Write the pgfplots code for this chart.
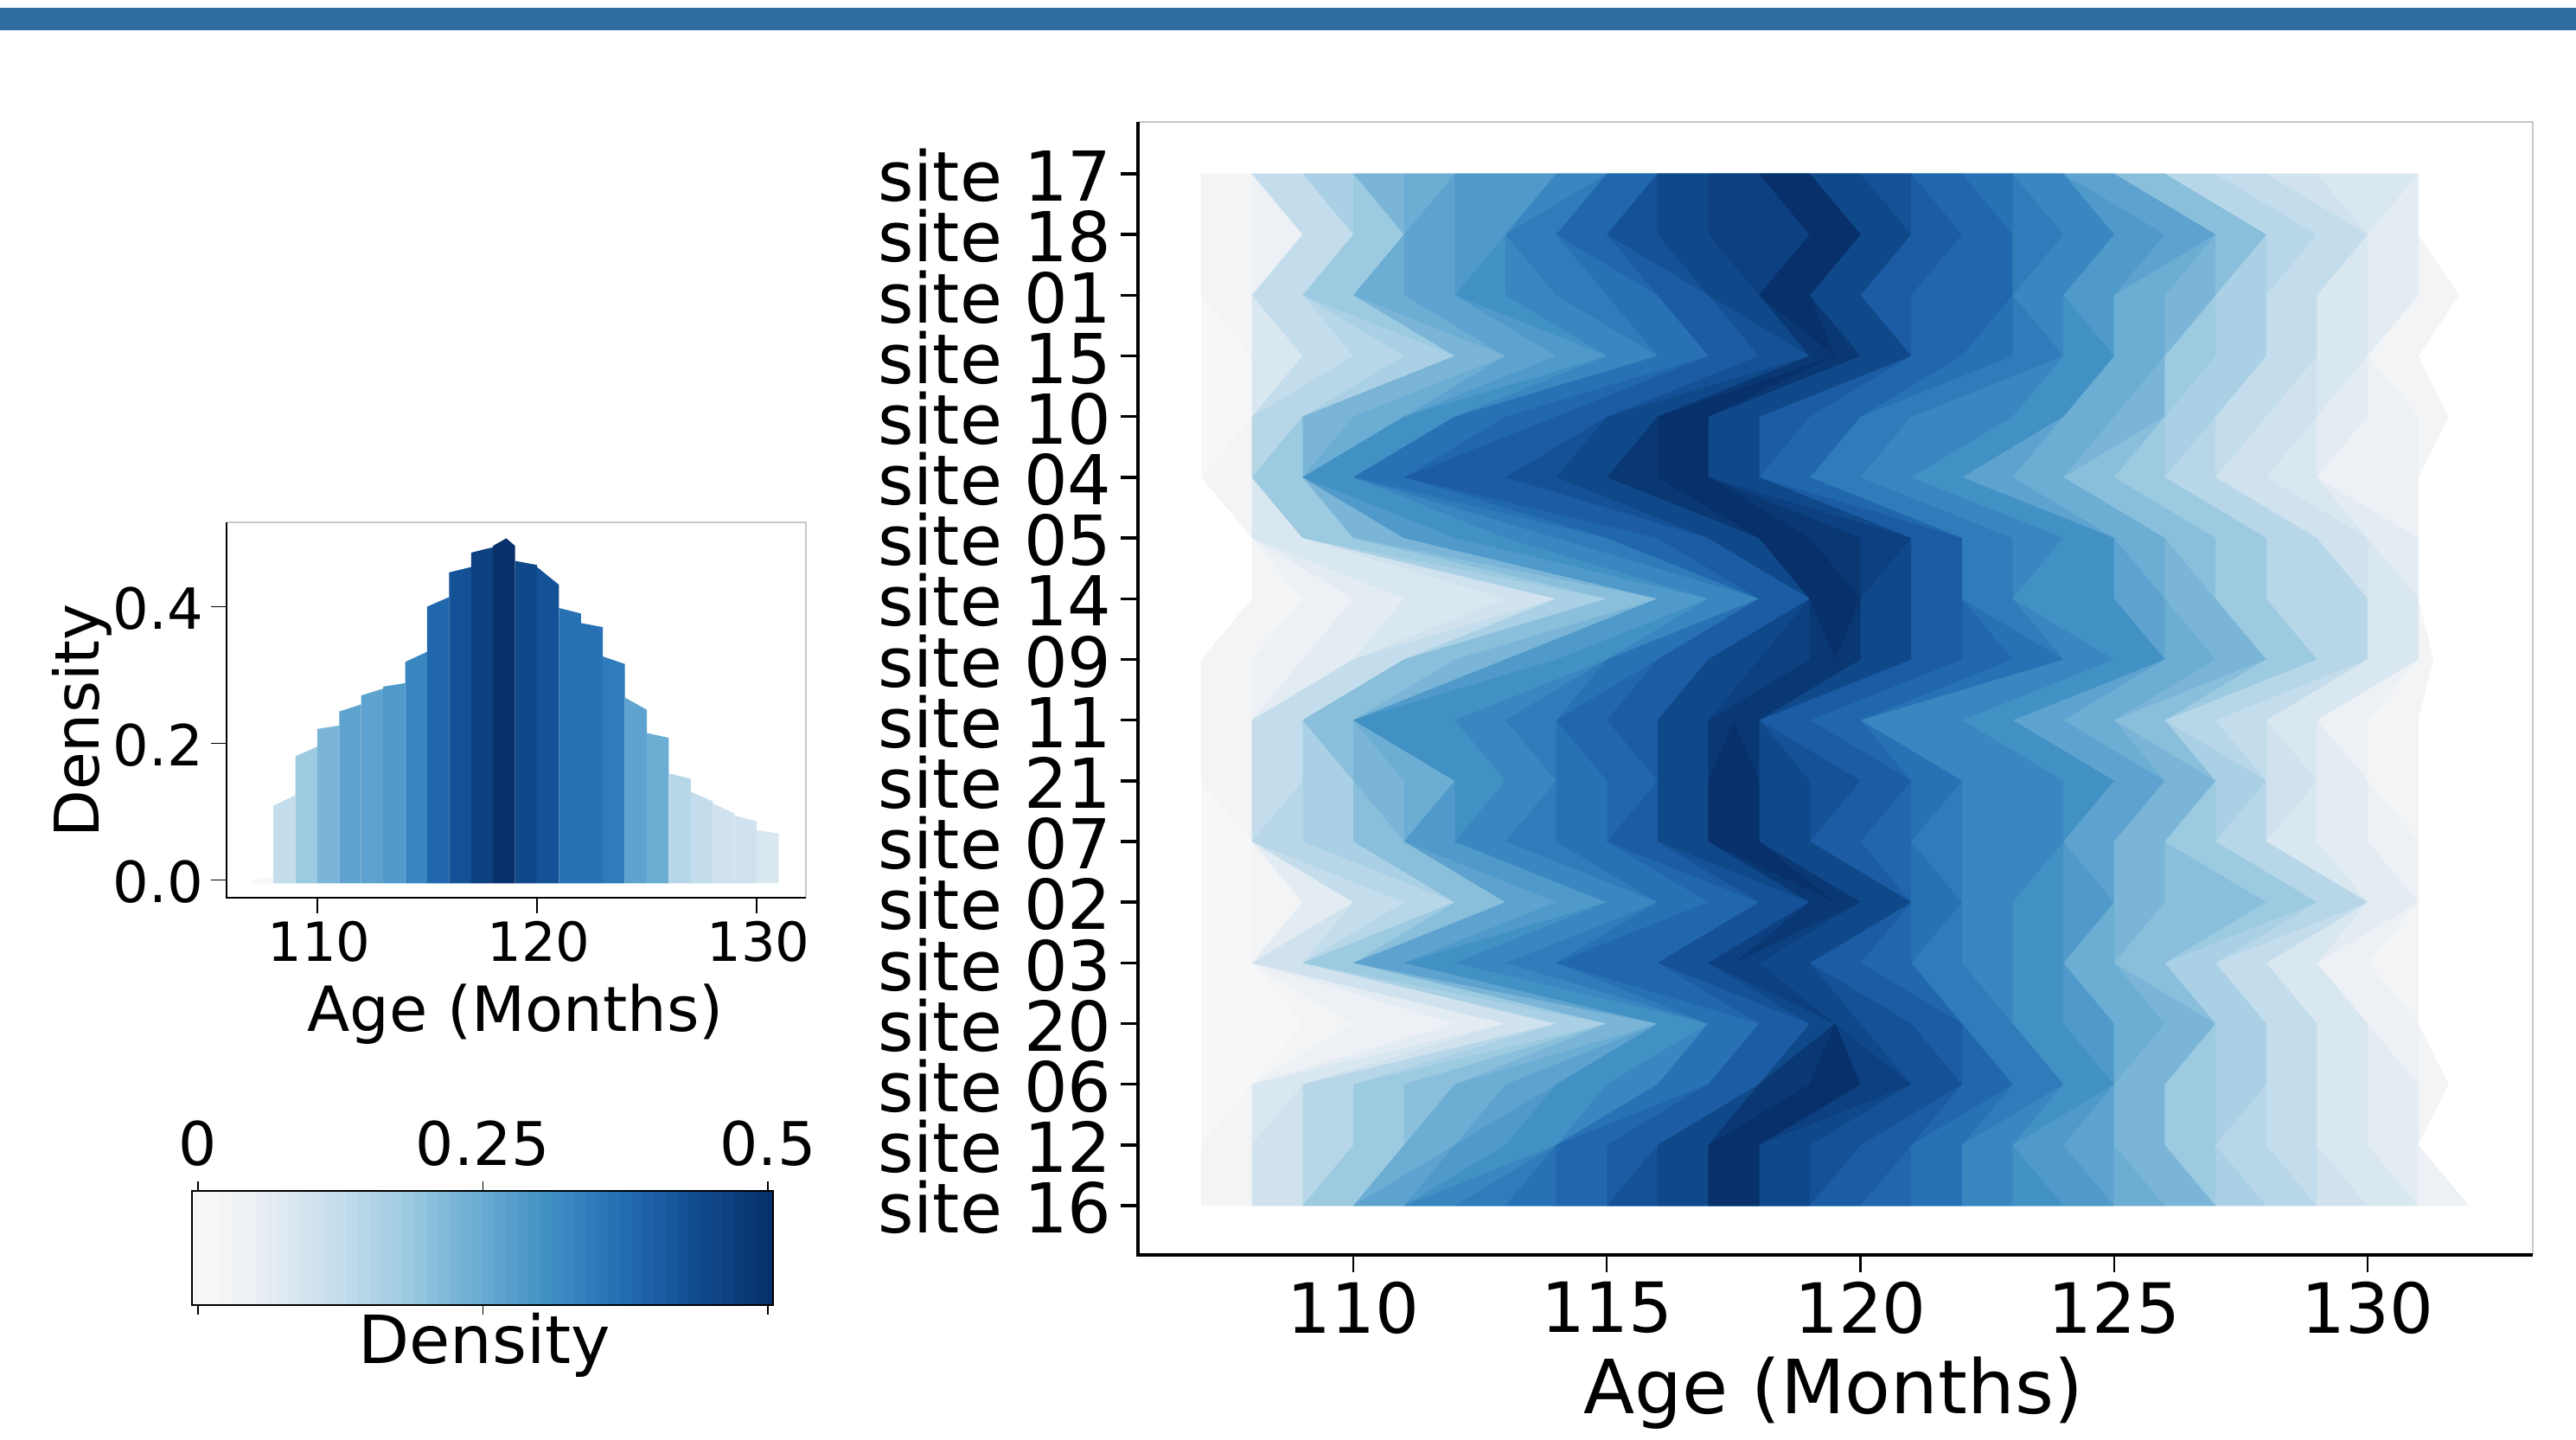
\documentclass[border=0pt]{standalone}
\usepackage{fontspec}
\setmainfont{DejaVu Sans}
\usepackage{pgfplots}
\pgfplotsset{compat=1.18}
% band colours, named by density x 100
\definecolor{c00}{HTML}{F5F6F7}
\definecolor{c01}{HTML}{F6F7F8}\definecolor{c02}{HTML}{F2F4F6}\definecolor{c04}{HTML}{EDF1F5}
\definecolor{c06}{HTML}{E4ECF3}\definecolor{c08}{HTML}{D9E7F0}\definecolor{c10}{HTML}{CFE2EE}
\definecolor{c12}{HTML}{C3DDEC}\definecolor{c14}{HTML}{B7D7E9}\definecolor{c16}{HTML}{A9D0E5}
\definecolor{c18}{HTML}{9CCAE1}\definecolor{c20}{HTML}{8ABFDC}\definecolor{c22}{HTML}{7AB5D8}
\definecolor{c24}{HTML}{6CADD4}\definecolor{c26}{HTML}{5EA3CF}\definecolor{c28}{HTML}{4F9ACA}
\definecolor{c30}{HTML}{4291C5}\definecolor{c32}{HTML}{3A86C0}\definecolor{c34}{HTML}{307BBA}
\definecolor{c36}{HTML}{2871B5}\definecolor{c38}{HTML}{2167AE}\definecolor{c40}{HTML}{1B5CA4}
\definecolor{c42}{HTML}{145196}\definecolor{c44}{HTML}{10498A}\definecolor{c46}{HTML}{0D4080}
\definecolor{c48}{HTML}{0A3874}\definecolor{c50}{HTML}{08306B}
\definecolor{topbar}{HTML}{2F6DA3}
\definecolor{thinline}{HTML}{C8C8C8}
% density per site (row) and age 107..131 (column)
\expandafter\def\csname R0\endcsname{0.02,0.12,0.16,0.22,0.24,0.28,0.28,0.32,0.38,0.44,0.46,0.50,0.44,0.42,0.38,0.36,0.32,0.26,0.20,0.14,0.12,0.10,0.08,0.08,0.00}
\expandafter\def\csname R1\endcsname{0.02,0.04,0.12,0.18,0.26,0.28,0.34,0.38,0.42,0.44,0.46,0.46,0.50,0.44,0.40,0.38,0.34,0.32,0.28,0.26,0.20,0.14,0.12,0.06,0.00}
\expandafter\def\csname R2\endcsname{0.02,0.12,0.18,0.24,0.26,0.30,0.32,0.34,0.36,0.40,0.44,0.50,0.44,0.40,0.38,0.38,0.32,0.28,0.24,0.22,0.16,0.12,0.08,0.06,0.02}
\expandafter\def\csname R3\endcsname{0.01,0.08,0.12,0.14,0.16,0.22,0.26,0.28,0.32,0.36,0.40,0.42,0.48,0.44,0.38,0.36,0.34,0.30,0.24,0.18,0.16,0.12,0.08,0.02,0.00}
\expandafter\def\csname R4\endcsname{0.01,0.14,0.22,0.24,0.30,0.36,0.38,0.40,0.44,0.50,0.44,0.40,0.38,0.34,0.32,0.32,0.30,0.24,0.22,0.16,0.12,0.10,0.06,0.04,0.02}
\expandafter\def\csname R5\endcsname{0.02,0.18,0.30,0.36,0.40,0.40,0.42,0.44,0.48,0.50,0.44,0.38,0.34,0.32,0.30,0.26,0.24,0.20,0.18,0.14,0.10,0.08,0.04,0.04,0.00}
\expandafter\def\csname R6\endcsname{0.00,0.08,0.18,0.22,0.28,0.30,0.32,0.34,0.38,0.40,0.44,0.50,0.48,0.46,0.40,0.34,0.32,0.30,0.24,0.20,0.18,0.14,0.10,0.06,0.00}
\expandafter\def\csname R7\endcsname{0.00,0.02,0.04,0.06,0.08,0.08,0.10,0.16,0.20,0.28,0.32,0.40,0.50,0.44,0.40,0.34,0.30,0.30,0.26,0.22,0.18,0.14,0.14,0.08,0.00}
\expandafter\def\csname R8\endcsname{0.02,0.04,0.06,0.12,0.20,0.22,0.28,0.30,0.36,0.40,0.44,0.46,0.48,0.44,0.40,0.38,0.36,0.32,0.30,0.24,0.22,0.18,0.14,0.08,0.02}
\expandafter\def\csname R9\endcsname{0.02,0.12,0.20,0.30,0.30,0.32,0.34,0.38,0.40,0.44,0.48,0.40,0.38,0.32,0.32,0.30,0.26,0.24,0.20,0.14,0.12,0.08,0.04,0.02,0.00}
\expandafter\def\csname R10\endcsname{0.02,0.12,0.16,0.22,0.24,0.30,0.32,0.36,0.38,0.44,0.50,0.44,0.42,0.40,0.36,0.32,0.32,0.30,0.26,0.22,0.16,0.10,0.06,0.02,0.00}
\expandafter\def\csname R11\endcsname{0.01,0.14,0.16,0.20,0.28,0.32,0.34,0.36,0.40,0.44,0.50,0.44,0.40,0.38,0.34,0.32,0.32,0.26,0.22,0.18,0.14,0.08,0.06,0.04,0.00}
\expandafter\def\csname R12\endcsname{0.01,0.02,0.06,0.12,0.14,0.20,0.26,0.28,0.32,0.36,0.38,0.42,0.48,0.44,0.36,0.32,0.30,0.28,0.22,0.20,0.20,0.18,0.14,0.06,0.00}
\expandafter\def\csname R13\endcsname{0.01,0.10,0.18,0.26,0.30,0.32,0.34,0.38,0.38,0.42,0.46,0.44,0.40,0.38,0.34,0.32,0.30,0.24,0.20,0.16,0.12,0.08,0.04,0.02,0.00}
\expandafter\def\csname R14\endcsname{0.01,0.01,0.02,0.04,0.04,0.06,0.10,0.16,0.22,0.30,0.36,0.40,0.44,0.42,0.40,0.34,0.30,0.28,0.24,0.22,0.16,0.12,0.08,0.04,0.00}
\expandafter\def\csname R15\endcsname{0.01,0.08,0.14,0.18,0.20,0.24,0.26,0.30,0.32,0.36,0.40,0.48,0.50,0.46,0.42,0.38,0.34,0.30,0.22,0.18,0.16,0.12,0.08,0.06,0.02}
\expandafter\def\csname R16\endcsname{0.02,0.10,0.14,0.18,0.24,0.28,0.30,0.38,0.40,0.44,0.50,0.44,0.42,0.40,0.36,0.32,0.28,0.26,0.22,0.18,0.14,0.12,0.08,0.06,0.00}
\expandafter\def\csname R17\endcsname{0.02,0.10,0.18,0.26,0.32,0.34,0.36,0.38,0.42,0.44,0.50,0.44,0.40,0.38,0.36,0.32,0.30,0.28,0.24,0.22,0.16,0.14,0.10,0.08,0.04}
% where the last pale band ends, for the rows that reach past 131
\expandafter\def\csname T2\endcsname{131.8}
\expandafter\def\csname T4\endcsname{131.6}
\expandafter\def\csname T8\endcsname{131.3}
\expandafter\def\csname T15\endcsname{131.6}
\expandafter\def\csname T17\endcsname{132}
\makeatletter
\newcount\ri \newcount\ak \newdimen\mx
\newcommand\findpeaks{%
  \ri=0
  \loop\ifnum\ri<18
    \mx=-1pt \ak=107
    \edef\thisrow{\csname R\the\ri\endcsname}%
    \@for\vv:=\thisrow\do{%
      \ifdim\vv pt>\mx \mx=\vv pt\relax
        \expandafter\xdef\csname P\the\ri\endcsname{\the\ak.5}\fi
      \advance\ak by 1 }%
    \advance\ri by 1
  \repeat}
\newcommand\buildpoly[1]{%
  \gdef\polyL{}\gdef\polyR{}%
  \ri=0
  \loop\ifnum\ri<18
    \def\fL{}\def\fR{}\ak=107
    \edef\thisrow{\csname R\the\ri\endcsname}%
    \@for\vv:=\thisrow\do{%
      \ifdim\vv pt<#1pt\relax\else
        \ifx\fL\empty\edef\fL{\the\ak}\fi
        \edef\fR{\the\numexpr\ak+1\relax}%
      \fi
      \advance\ak by 1 }%
    \ifx\fL\empty\edef\fL{\csname P\the\ri\endcsname}\edef\fR{\fL}%
    \else\ifnum\fR=132 \edef\fR{\csname T\the\ri\endcsname}\fi\fi
    \xdef\polyL{\polyL (\fL,\the\numexpr17-\ri\relax)}%
    \xdef\polyR{(\fR,\the\numexpr17-\ri\relax)\polyR}%
    \advance\ri by 1
  \repeat}
\makeatother
\newcommand\drawlevel[2]{\buildpoly{#1}%
  \edef\tmp{\noexpand\addplot[fill=#2,draw=none] coordinates {\polyL\polyR};}\tmp}
\newcommand\barlevel[2]{\addplot[fill={#2},draw=none] coordinates {(#1,0)(0.5046,0)(0.5046,1)(#1,1)};}
\newcommand\fs[1]{\fontsize{#1}{#1}\selectfont}
\begin{document}
\begin{tikzpicture}[x=1pt,y=1pt]
\useasboundingbox (0,0) rectangle (744.75,416.25);
\fill[topbar] (0,407.6) rectangle (744.75,414);
% main heat panel
\findpeaks
\begin{axis}[at={(329pt,53.5pt)},anchor=south west,scale only axis,width=403.25pt,height=327.5pt,
  xmin=105.75,xmax=133.26,ymin=-0.81,ymax=17.855,clip=false,
  axis line style={draw=none},
  xtick={110,115,120,125,130},
  ytick={0,...,17},
  yticklabels={site 16,site 12,site 06,site 20,site 03,site 02,site 07,site 21,site 11,site 09,site 14,site 05,site 04,site 10,site 15,site 01,site 18,site 17},
  xtick pos=bottom,ytick pos=left,tick align=outside,
  major tick length=5pt,
  x tick style={black,line width=0.55pt},
  y tick style={black,line width=0.85pt},
  /pgf/number format/assume math mode=true,
  /pgf/number format/1000 sep={},
  x tick label style={font=\fs{20},inner sep=1pt,yshift=-1.6pt},
  y tick label style={font=\fs{19.9},inner sep=0pt,xshift=-2.4pt,yshift=-0.5pt},
]
\drawlevel{0.01}{c01}\drawlevel{0.02}{c02}\drawlevel{0.04}{c04}\drawlevel{0.06}{c06}
\drawlevel{0.08}{c08}\drawlevel{0.10}{c10}\drawlevel{0.12}{c12}\drawlevel{0.14}{c14}
\drawlevel{0.16}{c16}\drawlevel{0.18}{c18}\drawlevel{0.20}{c20}\drawlevel{0.22}{c22}
\drawlevel{0.24}{c24}\drawlevel{0.26}{c26}\drawlevel{0.28}{c28}\drawlevel{0.30}{c30}
\drawlevel{0.32}{c32}\drawlevel{0.34}{c34}\drawlevel{0.36}{c36}\drawlevel{0.38}{c38}
\drawlevel{0.40}{c40}\drawlevel{0.42}{c42}\drawlevel{0.44}{c44}\drawlevel{0.46}{c46}
\drawlevel{0.48}{c48}\drawlevel{0.50}{c50}
\draw[thinline,line width=0.4pt] (rel axis cs:0,1)--(rel axis cs:1,1)--(rel axis cs:1,0);
\draw[black,line width=0.9pt] (rel axis cs:0,1)--(rel axis cs:0,0)--(rel axis cs:1,0);
\end{axis}
\node[font=\fs{21.6}] at (530,13.6) {Age (Months)};
% small density panel
\begin{axis}[at={(65.5pt,156.75pt)},anchor=south west,scale only axis,width=167.5pt,height=108.5pt,
  xmin=105.87,xmax=132.24,ymin=-0.026,ymax=0.5234,clip=false,
  axis line style={draw=none},
  xtick={110,120,130},ytick={0,0.2,0.4},
  xtick pos=bottom,ytick pos=left,tick align=outside,
  major tick length=4.5pt,
  tick style={black,line width=0.4pt},
  /pgf/number format/assume math mode=true,
  /pgf/number format/1000 sep={},
  /pgf/number format/fixed,/pgf/number format/fixed zerofill,/pgf/number format/precision=1,
  x tick label style={font=\fs{15.6},inner sep=1pt,yshift=-1.2pt,xshift=0.5pt,/pgf/number format/precision=0},
  y tick label style={font=\fs{16.4},inner sep=0pt,xshift=-2pt,yshift=-0.5pt},
]
\addplot[fill=c01,draw=none] coordinates {(107,-0.005)(107,0.000)(108,0.004)(108,-0.005)};
\addplot[fill=c12,draw=none] coordinates {(108,-0.005)(108,0.1085)(109,0.124)(109,-0.005)};
\addplot[fill=c18,draw=none] coordinates {(109,-0.005)(109,0.181)(110,0.195)(110,-0.005)};
\addplot[fill=c22,draw=none] coordinates {(110,-0.005)(110,0.221)(111,0.226)(111,-0.005)};
\addplot[fill=c26,draw=none] coordinates {(111,-0.005)(111,0.2465)(112,0.257)(112,-0.005)};
\addplot[fill=c26,draw=none] coordinates {(112,-0.005)(112,0.27)(113,0.28)(113,-0.005)};
\addplot[fill=c28,draw=none] coordinates {(113,-0.005)(113,0.283)(114,0.288)(114,-0.005)};
\addplot[fill=c32,draw=none] coordinates {(114,-0.005)(114,0.319)(115,0.334)(115,-0.005)};
\addplot[fill=c38,draw=none] coordinates {(115,-0.005)(115,0.40)(116,0.414)(116,-0.005)};
\addplot[fill=c42,draw=none] coordinates {(116,-0.005)(116,0.45)(117,0.458)(117,-0.005)};
\addplot[fill=c46,draw=none] coordinates {(117,-0.005)(117,0.479)(118,0.487)(118,-0.005)};
\addplot[fill=c50,draw=none] coordinates {(118,-0.005)(118,0.489)(118.6,0.50)(119,0.489)(119,-0.005)};
\addplot[fill=c44,draw=none] coordinates {(119,-0.005)(119,0.467)(120,0.461)(120,-0.005)};
\addplot[fill=c42,draw=none] coordinates {(120,-0.005)(120,0.458)(121,0.432)(121,-0.005)};
\addplot[fill=c36,draw=none] coordinates {(121,-0.005)(121,0.398)(122,0.39)(122,-0.005)};
\addplot[fill=c36,draw=none] coordinates {(122,-0.005)(122,0.376)(123,0.37)(123,-0.005)};
\addplot[fill=c34,draw=none] coordinates {(123,-0.005)(123,0.327)(124,0.316)(124,-0.005)};
\addplot[fill=c26,draw=none] coordinates {(124,-0.005)(124,0.267)(125,0.249)(125,-0.005)};
\addplot[fill=c24,draw=none] coordinates {(125,-0.005)(125,0.215)(126,0.208)(126,-0.005)};
\addplot[fill=c14,draw=none] coordinates {(126,-0.005)(126,0.156)(127,0.148)(127,-0.005)};
\addplot[fill=c12,draw=none] coordinates {(127,-0.005)(127,0.129)(128,0.115)(128,-0.005)};
\addplot[fill=c10,draw=none] coordinates {(128,-0.005)(128,0.112)(129,0.097)(129,-0.005)};
\addplot[fill=c10,draw=none] coordinates {(129,-0.005)(129,0.094)(130,0.086)(130,-0.005)};
\addplot[fill=c08,draw=none] coordinates {(130,-0.005)(130,0.073)(131,0.068)(131,-0.005)};
\draw[thinline,line width=0.4pt] (rel axis cs:0,1)--(rel axis cs:1,1)--(rel axis cs:1,0);
\draw[black,line width=0.5pt] (rel axis cs:0,1)--(rel axis cs:0,0)--(rel axis cs:1,0);
\end{axis}
\node[font=\fs{18}] at (149,123) {Age (Months)};
\node[font=\fs{17.8},rotate=90] at (23.6,207.9) {Density};
% colour bar
\begin{axis}[at={(55.5pt,39pt)},anchor=south west,scale only axis,width=168pt,height=33pt,
  xmin=-0.0053,xmax=0.5046,ymin=0,ymax=1,axis on top=true,
  axis line style={black,line width=0.4pt},
  xtick={0,0.25,0.5},xticklabels={0,0.25,0.5},ytick=\empty,
  xtick pos=both,xticklabel pos=top,tick align=outside,
  major tick length=2.7pt,
  tick style={black,line width=0.35pt},
  /pgf/number format/assume math mode=true,
  x tick label style={font=\fs{17.4},inner sep=1pt,yshift=3.2pt},
]
\addplot[fill=c00,draw=none] coordinates {(-0.0053,0)(0.5046,0)(0.5046,1)(-0.0053,1)};
\barlevel{0.01}{c01}\barlevel{0.02}{c02}\barlevel{0.03}{c02!50!c04}\barlevel{0.04}{c04}\barlevel{0.05}{c04!50!c06}\barlevel{0.06}{c06}\barlevel{0.07}{c06!50!c08}
\barlevel{0.08}{c08}\barlevel{0.09}{c08!50!c10}\barlevel{0.10}{c10}\barlevel{0.11}{c10!50!c12}\barlevel{0.12}{c12}\barlevel{0.13}{c12!50!c14}\barlevel{0.14}{c14}\barlevel{0.15}{c14!50!c16}
\barlevel{0.16}{c16}\barlevel{0.17}{c16!50!c18}\barlevel{0.18}{c18}\barlevel{0.19}{c18!50!c20}\barlevel{0.20}{c20}\barlevel{0.21}{c20!50!c22}\barlevel{0.22}{c22}\barlevel{0.23}{c22!50!c24}
\barlevel{0.24}{c24}\barlevel{0.25}{c24!50!c26}\barlevel{0.26}{c26}\barlevel{0.27}{c26!50!c28}\barlevel{0.28}{c28}\barlevel{0.29}{c28!50!c30}\barlevel{0.30}{c30}\barlevel{0.31}{c30!50!c32}
\barlevel{0.32}{c32}\barlevel{0.33}{c32!50!c34}\barlevel{0.34}{c34}\barlevel{0.35}{c34!50!c36}\barlevel{0.36}{c36}\barlevel{0.37}{c36!50!c38}\barlevel{0.38}{c38}\barlevel{0.39}{c38!50!c40}
\barlevel{0.40}{c40}\barlevel{0.41}{c40!50!c42}\barlevel{0.42}{c42}\barlevel{0.43}{c42!50!c44}\barlevel{0.44}{c44}\barlevel{0.45}{c44!50!c46}\barlevel{0.46}{c46}\barlevel{0.47}{c46!50!c48}
\barlevel{0.48}{c48}\barlevel{0.49}{c48!50!c50}\barlevel{0.50}{c50}
\end{axis}
\node[font=\fs{19.2}] at (140,27.3) {Density};
\end{tikzpicture}
\end{document}
